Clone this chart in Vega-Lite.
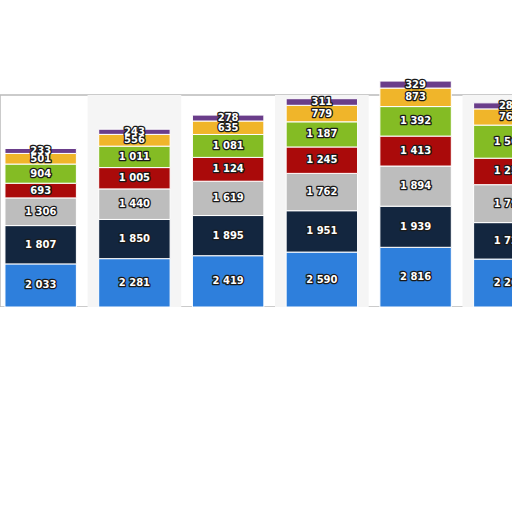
{
  "$schema": "https://vega.github.io/schema/vega-lite/v6.json",
  "description": "Stacked columns, seven series per column, labels centred in each segment.",
  "width": 550,
  "height": 212,
  "autosize": {"type": "none"},
  "padding": {"left": 0, "top": 95, "right": 0, "bottom": 0},
  "background": "white",
  "data": {
    "values": [
      {"col": "C1", "series": "S1", "value": 2033},
      {"col": "C1", "series": "S2", "value": 1807},
      {"col": "C1", "series": "S3", "value": 1306},
      {"col": "C1", "series": "S4", "value": 693},
      {"col": "C1", "series": "S5", "value": 904},
      {"col": "C1", "series": "S6", "value": 501},
      {"col": "C1", "series": "S7", "value": 233},
      {"col": "C2", "series": "S1", "value": 2281},
      {"col": "C2", "series": "S2", "value": 1850},
      {"col": "C2", "series": "S3", "value": 1440},
      {"col": "C2", "series": "S4", "value": 1005},
      {"col": "C2", "series": "S5", "value": 1011},
      {"col": "C2", "series": "S6", "value": 556},
      {"col": "C2", "series": "S7", "value": 243},
      {"col": "C3", "series": "S1", "value": 2419},
      {"col": "C3", "series": "S2", "value": 1895},
      {"col": "C3", "series": "S3", "value": 1619},
      {"col": "C3", "series": "S4", "value": 1124},
      {"col": "C3", "series": "S5", "value": 1081},
      {"col": "C3", "series": "S6", "value": 635},
      {"col": "C3", "series": "S7", "value": 278},
      {"col": "C4", "series": "S1", "value": 2590},
      {"col": "C4", "series": "S2", "value": 1951},
      {"col": "C4", "series": "S3", "value": 1762},
      {"col": "C4", "series": "S4", "value": 1245},
      {"col": "C4", "series": "S5", "value": 1187},
      {"col": "C4", "series": "S6", "value": 779},
      {"col": "C4", "series": "S7", "value": 311},
      {"col": "C5", "series": "S1", "value": 2816},
      {"col": "C5", "series": "S2", "value": 1939},
      {"col": "C5", "series": "S3", "value": 1894},
      {"col": "C5", "series": "S4", "value": 1413},
      {"col": "C5", "series": "S5", "value": 1392},
      {"col": "C5", "series": "S6", "value": 873},
      {"col": "C5", "series": "S7", "value": 329},
      {"col": "C6", "series": "S1", "value": 2260},
      {"col": "C6", "series": "S2", "value": 1720},
      {"col": "C6", "series": "S3", "value": 1790},
      {"col": "C6", "series": "S4", "value": 1250},
      {"col": "C6", "series": "S5", "value": 1560},
      {"col": "C6", "series": "S6", "value": 765},
      {"col": "C6", "series": "S7", "value": 285}
    ]
  },
  "encoding": {
    "x": {
      "field": "col",
      "type": "ordinal",
      "scale": {"paddingInner": 0.238, "paddingOuter": 0.053},
      "axis": {"labels": false, "ticks": false, "title": null, "domainColor": "#333333", "domainWidth": 1.2}
    }
  },
  "layer": [
    {
      "transform": [
        {"filter": {"field": "series", "equal": "S1"}},
        {"filter": {"field": "col", "oneOf": ["C2", "C4", "C6"]}}
      ],
      "mark": {"type": "bar", "color": "#f5f5f5", "width": {"band": 1.312}},
      "encoding": {
        "y": {"datum": 0, "type": "quantitative", "scale": {"domain": [0, 10000], "nice": false}},
        "y2": {"datum": 10000}
      }
    },
    {
      "mark": {"type": "bar", "stroke": "white", "strokeWidth": 1},
      "encoding": {
        "y": {
          "field": "value",
          "type": "quantitative",
          "aggregate": "sum",
          "stack": "zero",
          "scale": {"domain": [0, 10000], "nice": false},
          "axis": {
            "values": [2500, 5000, 7500],
            "labels": false,
            "ticks": false,
            "domain": false,
            "title": null,
            "gridColor": "#c8c8c8",
            "gridDash": [1, 2]
          }
        },
        "color": {
          "field": "series",
          "type": "nominal",
          "legend": null,
          "scale": {
            "domain": ["S1", "S2", "S3", "S4", "S5", "S6", "S7"],
            "range": ["#2e7fdc", "#13263f", "#bdbdbd", "#aa0a0a", "#84bc24", "#f0b52a", "#6a3d8a"]
          }
        },
        "order": {"field": "series"}
      }
    },
    {
      "transform": [
        {"stack": "value", "groupby": ["col"], "sort": [{"field": "series"}], "as": ["lo", "hi"]},
        {"calculate": "(datum.lo + datum.hi) / 2", "as": "mid"}
      ],
      "layer": [
        {
          "mark": {"type": "text", "font": "DejaVu Sans", "fontWeight": "bold", "fontSize": 10, "color": "#1a1a1a", "stroke": "#1a1a1a", "strokeWidth": 2.6, "strokeJoin": "round", "baseline": "middle"},
          "encoding": {
            "y": {"field": "mid", "type": "quantitative"},
            "text": {"field": "value", "type": "quantitative", "format": ",d"}
          }
        },
        {
          "mark": {"type": "text", "font": "DejaVu Sans", "fontWeight": "bold", "fontSize": 10, "color": "white", "baseline": "middle"},
          "encoding": {
            "y": {"field": "mid", "type": "quantitative"},
            "text": {"field": "value", "type": "quantitative", "format": ",d"}
          }
        }
      ]
    }
  ],
  "config": {
    "view": {"stroke": "#bbbbbb", "strokeWidth": 1.5},
    "locale": {"number": {"decimal": ",", "thousands": " ", "grouping": [3], "currency": ["", ""]}}
  }
}
